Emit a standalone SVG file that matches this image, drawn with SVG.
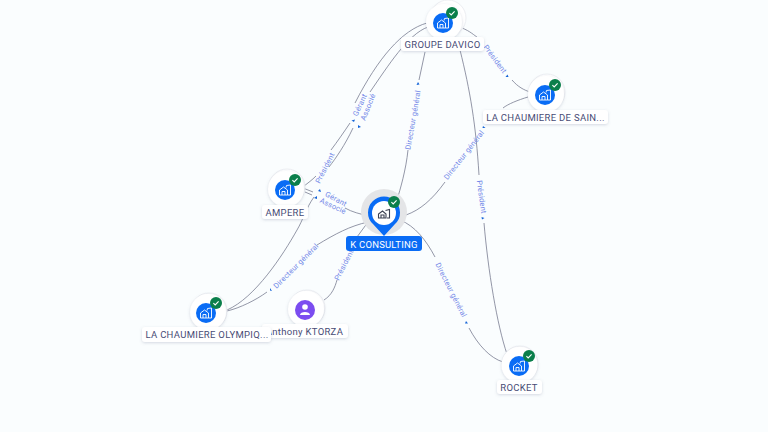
<svg xmlns="http://www.w3.org/2000/svg" width="768" height="432" viewBox="0 0 768 432">
<style>
text{font-family:Roboto,"Liberation Sans",sans-serif}
.e{fill:none;stroke:#70748a;stroke-width:.75}
.l{font-size:7.500px;fill:#7388e8;text-anchor:middle;letter-spacing:.2px}
.n{font-size:9.500px;fill:#474b75;text-anchor:middle;letter-spacing:.3px}
.b{fill:#fff;rx:3px;filter:url(#s)}
.h{fill:#fff;filter:url(#s)}
.o{fill:#fff;stroke:#eceef2;stroke-width:1}
.c{fill:#0a6cf5}
.g{fill:#0b7f4b}
.k{fill:none;stroke:#fff;stroke-width:1.100}
.i{fill:none;stroke:#fff;stroke-width:.9}
.a{fill:#1565d8}
</style>
<defs>
<filter id="s" x="-30%" y="-30%" width="160%" height="160%"><feDropShadow dx="0" dy="1" stdDeviation="1.400" flood-color="#7c86a0" flood-opacity=".3"/></filter>
<g id="bld"><path class="i" d="M-5.500 5V0L-1.500 -3L2.500 0V5H-5.500M-3 5V1.500H0V5M1 -2.500L1.500 -4.500L5.500 -5V5H2.500"/></g>
<g id="ok"><circle class="g" r="6"/><path class="k" d="M-2.600 .2L-.8 2L2.600 -1.600"/></g>
</defs>
<rect width="768" height="432" fill="#fafdfe"/>
<g id="connectors">
<path class="e" d="M427 23C402 30 378 58 355 103"/>
<path class="e" d="M350 123C344 132 337 142 331 150"/>
<path class="e" d="M316 176C312 180 308 183 304 186"/>
<path class="e" d="M428 27C408 34 388 66 370 92"/>
<path class="e" d="M353 128C345 145 336 158 329 167"/>
<path class="e" d="M314 197C306 208 303 220 297 230C283 255 255 298 227 310"/>
<path class="e" d="M227 311C240 308 256 300 267 292"/>
<path class="e" d="M317 245C335 234 350 226 368 222"/>
<path class="e" d="M425 52L419 80"/>
<path class="e" d="M408 150C406 170 400 190 397 200"/>
<path class="e" d="M460 50C470 90 476 125 479 175"/>
<path class="e" d="M484 223C488 270 497 325 507 354"/>
<path class="e" d="M462 28C470 31 475 36 477 37"/>
<path class="e" d="M512 80C518 87 524 90 530 92"/>
<path class="e" d="M528 97C518 100 508 104 503 108"/>
<path class="e" d="M445 182C432 200 420 210 406 215"/>
<path class="e" d="M303 188L313 192"/>
<path class="e" d="M305 192L312 195"/>
<path class="e" d="M345 208C352 212 360 214 369 216"/>
<path class="e" d="M400 220C415 226 426 240 435 257"/>
<path class="e" d="M469 328C478 345 490 358 503 362"/>
<path class="e" d="M324 300C332 295 335 287 337 280"/>
<path class="e" d="M357 237L368 222"/>
<polygon class="a" points="351.500,120.500 355,119.500 354,122"/>
<polygon class="a" points="358,125 361,127 358,128"/>
<polygon class="a" points="416.500,85 419.500,84.500 418,82"/>
<polygon class="a" points="505.500,77 508.500,77 507.500,74.500"/>
<polygon class="a" points="483,126 485.500,128 482.500,128"/>
<polygon class="a" points="481.500,217 484.500,218 482,219.500"/>
<polygon class="a" points="466,321 468,323.500 465,323.500"/>
<polygon class="a" points="270,288 270,290.500 272,291"/>
<polygon class="a" points="320,189 321,192 318,191"/>
<polygon class="a" points="314,198 317,196 317,199"/>
<text class="l" transform="translate(360 105) rotate(-65)" dy="2.500">Gérant</text>
<text class="l" transform="translate(368 107) rotate(-68)" dy="2.500">Associé</text>
<text class="l" transform="translate(413 120) rotate(-80)" dy="2.500">Directeur général</text>
<text class="l" transform="translate(495 59) rotate(53)" dy="2.500">Président</text>
<text class="l" transform="translate(464 155) rotate(-52)" dy="2.500">Directeur général</text>
<text class="l" transform="translate(481.500 197) rotate(82)" dy="2.500">Président</text>
<text class="l" transform="translate(451 290) rotate(63)" dy="2.500">Directeur général</text>
<text class="l" transform="translate(296 266) rotate(-45)" dy="2.500">Directeur général</text>
<text class="l" transform="translate(325 168) rotate(-63)" dy="2.500">Président</text>
<text class="l" transform="translate(336 199) rotate(28)" dy="2.500">Gérant</text>
<text class="l" transform="translate(333 206) rotate(25)" dy="2.500">Associé</text>
<text class="l" transform="translate(344 265) rotate(-63)" dy="2.500">Président</text>
</g>
<g id="davico">
<circle class="o" cx="448" cy="18" r="18"/><circle class="h" cx="444" cy="22" r="18"/><circle class="c" cx="443" cy="23" r="10"/>
<use href="#bld" x="443" y="23"/><use href="#ok" x="452" y="13"/>
<rect class="b" x="401" y="37" width="83" height="14"/><text class="n" x="442.500" y="48">GROUPE DAVICO</text>
</g>
<g id="saint">
<circle class="o" cx="547" cy="92" r="18"/><circle class="h" cx="546" cy="94" r="18"/><circle class="c" cx="545" cy="95" r="10"/>
<use href="#bld" x="545" y="95"/><use href="#ok" x="555" y="85"/>
<rect class="b" x="483" y="110" width="125" height="14"/><text class="n" x="545.500" y="121">LA CHAUMIERE DE SAIN...</text>
</g>
<g id="ampere">
<circle class="o" cx="287" cy="187" r="18"/><circle class="h" cx="286" cy="189" r="18"/><circle class="c" cx="285" cy="190" r="10"/>
<use href="#bld" x="285" y="190"/><use href="#ok" x="295" y="180"/>
<rect class="b" x="262" y="205" width="46" height="14"/><text class="n" x="285" y="216">AMPERE</text>
</g>
<g id="kconsulting">
<circle cx="384" cy="212" r="23" fill="#e4e5e7"/>
<path class="c" d="M384 236L373 224A15 15 0 0 1 368 212.500A16 16 0 0 1 400 212.500A15 15 0 0 1 395 224Z"/>
<circle cx="384" cy="213" r="12" fill="#fff"/>
<path d="M378.500 218V214L382.500 211L386 214V218ZM381 218V215H384V218M385.500 210.500L389.500 209.500V218H387" fill="none" stroke="#3c4152" stroke-width="1.100"/>
<use href="#ok" x="394" y="202"/>
<rect x="346" y="236" width="76" height="15" rx="3" fill="#0a6cf5"/><text x="384" y="248" font-size="9.500" fill="#fff" text-anchor="middle" letter-spacing=".2">K CONSULTING</text>
</g>
<g id="anthony">
<circle class="o" cx="307" cy="308" r="18"/><circle class="h" cx="306" cy="309" r="18"/><circle cx="305" cy="310" r="10" fill="#7c4df0"/>
<circle cx="305" cy="307" r="2.800" fill="#fff"/><path d="M300 315C300 311 310 311 310 315Z" fill="#fff"/>
<rect class="b" x="262" y="324" width="86" height="14"/><text class="n" x="304.500" y="335">Anthony KTORZA</text>
</g>
<g id="olympique">
<circle class="o" cx="209" cy="311" r="18"/><circle class="h" cx="208" cy="312" r="18"/><circle class="c" cx="206" cy="313" r="10"/>
<use href="#bld" x="206" y="313"/><use href="#ok" x="216" y="303"/>
<rect class="b" x="142" y="327" width="129" height="15"/><text class="n" x="207" y="338">LA CHAUMIERE OLYMPIQ...</text>
</g>
<g id="rocket">
<circle class="o" cx="520" cy="364" r="18"/><circle class="h" cx="519.500" cy="365" r="18"/><circle class="c" cx="519" cy="366" r="10"/>
<use href="#bld" x="519" y="366"/><use href="#ok" x="529" y="356"/>
<rect class="b" x="497" y="380" width="45" height="14"/><text class="n" x="519" y="391">ROCKET</text>
</g>
</svg>
